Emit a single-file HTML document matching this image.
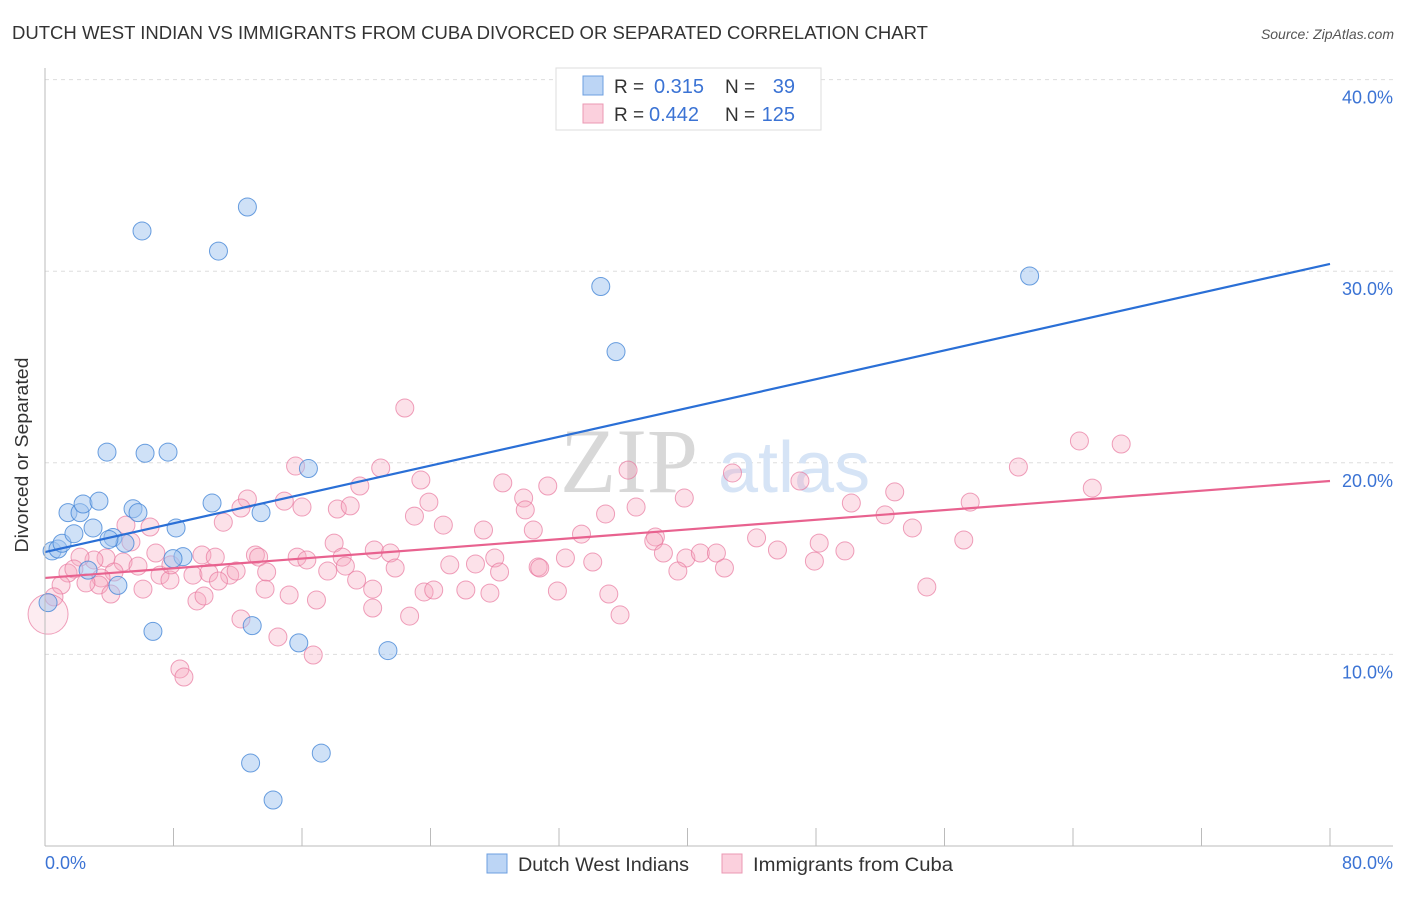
<!DOCTYPE html>
<html><head><meta charset="utf-8"><style>
body{margin:0;background:#fff;font-family:"Liberation Sans",sans-serif}
</style></head><body>
<svg width="1406" height="892" xmlns="http://www.w3.org/2000/svg">
<text x="12" y="39" font-size="18" fill="#333" textLength="916" lengthAdjust="spacingAndGlyphs">DUTCH WEST INDIAN VS IMMIGRANTS FROM CUBA DIVORCED OR SEPARATED CORRELATION CHART</text>
<text x="1394" y="39" font-size="14" fill="#555" font-style="italic" text-anchor="end">Source: ZipAtlas.com</text>
<g id="grid"></g>
<text x="560" y="492" font-size="92" fill="#d8d8d8" font-family="Liberation Serif,serif">ZIP</text>
<text x="718" y="492" font-size="72" fill="#d6e4f6">atlas</text>
<g id="pts"></g>
<g id="lines"></g>
<line x1="45" y1="68" x2="45" y2="846" stroke="#bbb"/>
<line x1="45" y1="846" x2="1393" y2="846" stroke="#bbb"/>
<text x="28" y="455" font-size="18" fill="#333" text-anchor="middle" textLength="195" lengthAdjust="spacingAndGlyphs" transform="rotate(-90 28 455)">Divorced or Separated</text>
<text x="45" y="869" font-size="18" fill="#3b73d4">0.0%</text>
<text x="1393" y="869" font-size="18" fill="#3b73d4" text-anchor="end">80.0%</text>
<g>
<rect x="556" y="68" width="265" height="62" fill="#fff" stroke="#ddd"/>
<rect x="583" y="76" width="20" height="19" fill="#bcd5f5" stroke="#6c9fe0"/>
<rect x="583" y="104" width="20" height="19" fill="#fbd0dd" stroke="#eb98b3"/>
<text x="614" y="93" font-size="19" fill="#333">R =</text>
<text x="654" y="93" font-size="20" fill="#3b73d4">0.315</text>
<text x="725" y="93" font-size="19" fill="#333">N =</text>
<text x="795" y="93" font-size="20" fill="#3b73d4" text-anchor="end">39</text>
<text x="614" y="121" font-size="19" fill="#333">R =</text>
<text x="649" y="121" font-size="20" fill="#3b73d4">0.442</text>
<text x="725" y="121" font-size="19" fill="#333">N =</text>
<text x="795" y="121" font-size="20" fill="#3b73d4" text-anchor="end">125</text>
</g>
<g>
<rect x="487" y="854" width="20" height="19" fill="#bcd5f5" stroke="#6c9fe0"/>
<text x="518" y="871" font-size="19" fill="#333" textLength="171" lengthAdjust="spacingAndGlyphs">Dutch West Indians</text>
<rect x="722" y="854" width="20" height="19" fill="#fbd0dd" stroke="#eb98b3"/>
<text x="753" y="871" font-size="19" fill="#333" textLength="200" lengthAdjust="spacingAndGlyphs">Immigrants from Cuba</text>
</g>
</svg>
<script>
const yTicks=[10,20,30,40];
const yTickLabels=["10.0%","20.0%","30.0%","40.0%"];
const xTicks=[8,16,24,32,40,48,56,64,72,80];
const blueX=[6.04,10.8,12.6,34.6,35.55,61.3,3.86,6.23,7.66,16.4,0.44,0.81,1.06,1.43,1.8,2.18,2.37,3.36,2.99,4.23,4.98,5.48,5.79,3.98,8.16,8.59,7.97,10.4,13.45,2.68,4.54,6.72,12.9,15.8,21.35,12.8,17.2,14.2,0.19];
const blueY=[32.1,31.05,33.35,29.2,25.8,29.75,20.56,20.5,20.56,19.7,15.4,15.5,15.8,17.4,16.3,17.4,17.85,18.0,16.6,16.1,15.8,17.6,17.4,16.0,16.6,15.1,15.0,17.9,17.4,14.4,13.6,11.2,11.5,10.6,10.2,4.33,4.85,2.4,12.7];
const pinkX=[22.4,64.4,67.0,15.6,20.9,23.4,36.3,42.8,60.6,47.0,12.6,14.9,16.0,19.6,23.9,28.5,29.8,31.3,36.8,39.8,50.2,52.9,57.6,65.2,5.04,6.54,11.1,12.2,18.2,19.0,23.0,24.8,27.3,29.9,30.4,33.4,34.9,38.0,44.3,48.2,52.3,54.0,57.2,5.35,3.8,3.05,2.18,6.9,9.77,10.6,13.1,13.3,15.7,16.3,18.0,18.5,20.5,21.5,26.8,28.0,30.7,32.4,34.1,37.9,38.5,39.9,40.8,41.8,45.6,49.8,4.86,4.3,5.79,7.16,9.21,10.2,11.5,11.9,13.8,17.6,18.7,21.8,25.2,28.3,30.8,39.4,42.3,47.9,1.43,1.8,3.49,3.36,2.55,1.0,0.56,6.1,7.78,10.8,13.7,15.2,16.9,19.4,20.4,23.6,24.2,26.2,27.7,31.9,35.1,9.46,9.9,12.2,14.5,16.7,22.7,35.8,54.9,8.4,8.65,4.1,20.4,7.84,0.19];
const pinkY=[22.86,21.14,20.98,19.83,19.73,19.1,19.62,19.47,19.78,19.05,18.11,18.0,17.69,18.79,17.95,18.95,18.16,18.79,17.69,18.16,17.9,18.48,17.95,18.68,16.75,16.65,16.9,17.64,17.59,17.75,17.22,16.75,16.49,17.54,16.49,16.28,17.33,16.13,16.08,15.81,17.28,16.6,15.97,15.87,15.03,14.93,15.08,15.29,15.19,15.08,15.19,15.08,15.08,14.93,15.81,15.08,15.45,15.29,14.72,15.03,14.56,15.03,14.82,15.92,15.29,15.03,15.29,15.29,15.45,15.4,14.82,14.3,14.61,14.14,14.14,14.25,14.14,14.35,14.3,14.35,14.61,14.51,14.67,14.3,14.51,14.35,14.51,14.87,14.25,14.46,13.99,13.62,13.73,13.62,13.0,13.41,13.88,13.83,13.41,13.1,12.84,13.88,13.41,13.26,13.36,13.36,13.2,13.31,13.15,12.79,13.05,11.85,10.91,9.97,12.0,12.06,13.52,9.24,8.82,13.15,12.42,14.67,12.1];
const blueTrend=[15.34,30.38];
const pinkTrend=[13.99,19.05];
const NS="http://www.w3.org/2000/svg";
const sx=v=>45+v*(1285/80);
const sy=v=>846-v*19.16;
function mk(tag,attrs,parent){const e=document.createElementNS(NS,tag);for(const k in attrs)e.setAttribute(k,attrs[k]);parent.appendChild(e);return e;}
const grid=document.getElementById('grid');
yTicks.forEach((t,i)=>{
 const l=mk('line',{x1:45,x2:1393,y1:sy(t),y2:sy(t),stroke:'#ddd','stroke-dasharray':'4,4'},grid);
 
 
 const tx=mk('text',{x:1393,y:sy(t)+24,'font-size':18,fill:'#3b73d4','text-anchor':'end'},grid);
 tx.textContent=yTickLabels[i];
 
 
});
xTicks.forEach(t=>{
 const l=mk('line',{x1:sx(t),x2:sx(t),y1:828,y2:846,stroke:'#bbb'},grid);
 
 
});
const pts=document.getElementById('pts');
pinkX.forEach((x,i)=>{
 const big=i===pinkX.length-1;
 const c=mk('circle',{cx:sx(x),cy:sy(pinkY[i]),r:big?20:9,fill:big?'rgba(246,168,193,0.22)':'rgba(246,168,193,0.35)',stroke:'rgba(232,120,158,0.7)','stroke-width':1},pts);
 
 
});
blueX.forEach((x,i)=>{
 const c=mk('circle',{cx:sx(x),cy:sy(blueY[i]),r:9,fill:'rgba(160,196,240,0.5)',stroke:'rgba(70,135,215,0.8)','stroke-width':1},pts);
 
 
});
const lines=document.getElementById('lines');
const bl=mk('line',{x1:sx(0),y1:sy(blueTrend[0]),x2:sx(80),y2:sy(blueTrend[1]),stroke:'#2a6fd6','stroke-width':2.2},lines);


const pl=mk('line',{x1:sx(0),y1:sy(pinkTrend[0]),x2:sx(80),y2:sy(pinkTrend[1]),stroke:'#e8628f','stroke-width':2.2},lines);


</script>
</body></html>
